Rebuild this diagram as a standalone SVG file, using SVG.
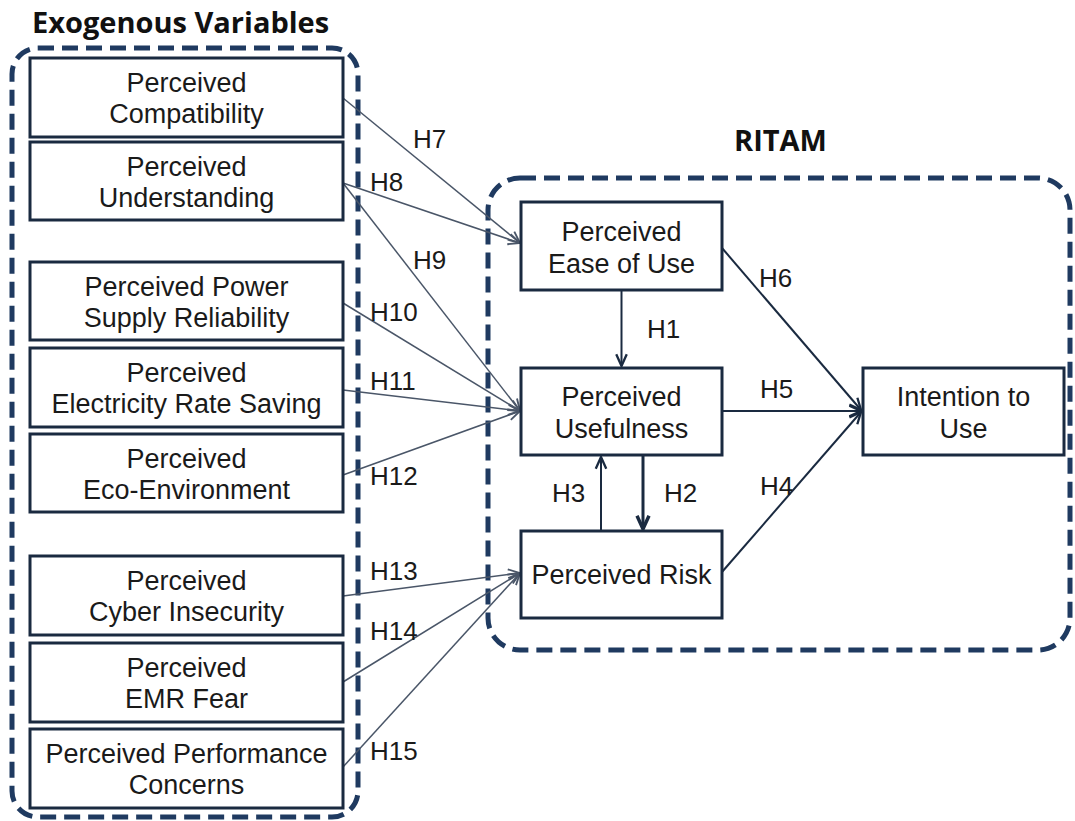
<svg xmlns="http://www.w3.org/2000/svg" width="1075" height="821" viewBox="0 0 1075 821">
<defs>
<style>
.grp{fill:none;stroke:#1f3a60;stroke-width:5;stroke-dasharray:16 8}
.title{font-family:"Open Sans","Liberation Sans",sans-serif;font-weight:bold;font-size:29px;fill:#111}
.box{fill:#fff;stroke:#1a2a40;stroke-width:3}
.t{font-family:"Liberation Sans",Arial,sans-serif;font-size:27px;fill:#1a1a1a;text-anchor:middle}
.lb{font-family:"Liberation Sans",Arial,sans-serif;font-size:26px;fill:#1a1a1a}
.ext{fill:none;stroke:#4a5668;stroke-width:1.5;marker-end:url(#ah1)}
.int{fill:none;stroke:#1a2a40;stroke-width:2;marker-end:url(#ah2)}
</style>
<marker id="ah1" markerUnits="userSpaceOnUse" markerWidth="14" markerHeight="14" viewBox="0 0 12 12" refX="11" refY="6" orient="auto">
<path d="M1,1.5 L11,6 L1,10.5" fill="none" stroke="#4a5668" stroke-width="1.6"/>
</marker>
<marker id="ah2" markerUnits="userSpaceOnUse" markerWidth="14" markerHeight="14" viewBox="0 0 12 12" refX="11" refY="6" orient="auto">
<path d="M1,1.5 L11,6 L1,10.5" fill="none" stroke="#1a2a40" stroke-width="2"/>
</marker>
<marker id="ah3" markerUnits="userSpaceOnUse" markerWidth="16" markerHeight="16" viewBox="0 0 12 12" refX="11" refY="6" orient="auto">
<path d="M1,1.5 L11,6 L1,10.5" fill="none" stroke="#1a2a40" stroke-width="2.6"/>
</marker>
</defs>

<g id="groups">
<rect class="grp" x="12" y="48" width="346" height="769" rx="26"/>
<rect class="grp" x="488" y="178" width="582" height="472" rx="32"/>
<text class="title" x="32" y="33">Exogenous Variables</text>
<text class="title" x="734" y="151">RITAM</text>
</g>

<g id="connectors">
<line class="ext" x1="343" y1="98" x2="520" y2="243"/>
<line class="ext" x1="343" y1="183" x2="520" y2="243"/>
<line class="ext" x1="343" y1="183" x2="520" y2="411"/>
<line class="ext" x1="343" y1="303" x2="520" y2="411"/>
<line class="ext" x1="343" y1="390" x2="520" y2="411"/>
<line class="ext" x1="343" y1="475" x2="520" y2="411"/>
<line class="ext" x1="343" y1="596" x2="520" y2="573"/>
<line class="ext" x1="343" y1="682" x2="520" y2="573"/>
<line class="ext" x1="343" y1="767" x2="520" y2="573"/>
<line class="int" x1="621.5" y1="290" x2="621.5" y2="366"/>
<line class="int" x1="722" y1="248" x2="861" y2="410"/>
<line class="int" x1="722" y1="411" x2="861" y2="411"/>
<line class="int" x1="722" y1="572" x2="861" y2="412"/>
<line class="int" x1="601" y1="531" x2="601" y2="457"/>
<line x1="643" y1="455" x2="643" y2="529" fill="none" stroke="#1a2a40" stroke-width="3" marker-end="url(#ah3)"/>
<text class="lb" x="413" y="148">H7</text>
<text class="lb" x="370" y="191">H8</text>
<text class="lb" x="413" y="269">H9</text>
<text class="lb" x="370" y="321">H10</text>
<text class="lb" x="370" y="390">H11</text>
<text class="lb" x="370" y="485">H12</text>
<text class="lb" x="370" y="580">H13</text>
<text class="lb" x="370" y="640">H14</text>
<text class="lb" x="370" y="760">H15</text>
<text class="lb" x="759" y="287">H6</text>
<text class="lb" x="647" y="338">H1</text>
<text class="lb" x="760" y="398">H5</text>
<text class="lb" x="760" y="495">H4</text>
<text class="lb" x="552" y="502">H3</text>
<text class="lb" x="664" y="502">H2</text>
</g>

<g id="n-compat"><rect class="box" x="30" y="58" width="313" height="79"/><text class="t" x="186.5" y="92">Perceived</text><text class="t" x="186.5" y="123">Compatibility</text></g>
<g id="n-underst"><rect class="box" x="30" y="142" width="313" height="78"/><text class="t" x="186.5" y="176">Perceived</text><text class="t" x="186.5" y="207">Understanding</text></g>
<g id="n-power"><rect class="box" x="30" y="262" width="313" height="78"/><text class="t" x="186.5" y="296">Perceived Power</text><text class="t" x="186.5" y="327">Supply Reliability</text></g>
<g id="n-rate"><rect class="box" x="30" y="348" width="313" height="79"/><text class="t" x="186.5" y="382">Perceived</text><text class="t" x="186.5" y="413">Electricity Rate Saving</text></g>
<g id="n-eco"><rect class="box" x="30" y="434" width="313" height="78"/><text class="t" x="186.5" y="468">Perceived</text><text class="t" x="186.5" y="499">Eco-Environment</text></g>
<g id="n-cyber"><rect class="box" x="30" y="556" width="313" height="79"/><text class="t" x="186.5" y="590">Perceived</text><text class="t" x="186.5" y="621">Cyber Insecurity</text></g>
<g id="n-emr"><rect class="box" x="30" y="643" width="313" height="79"/><text class="t" x="186.5" y="677">Perceived</text><text class="t" x="186.5" y="708">EMR Fear</text></g>
<g id="n-perf"><rect class="box" x="30" y="729" width="313" height="79"/><text class="t" x="186.5" y="763">Perceived Performance</text><text class="t" x="186.5" y="794">Concerns</text></g>

<g id="n-ease"><rect class="box" x="521" y="202" width="201" height="88"/><text class="t" x="621.5" y="241">Perceived</text><text class="t" x="621.5" y="273">Ease of Use</text></g>
<g id="n-useful"><rect class="box" x="521" y="368" width="201" height="87"/><text class="t" x="621.5" y="406">Perceived</text><text class="t" x="621.5" y="438">Usefulness</text></g>
<g id="n-risk"><rect class="box" x="521" y="531" width="201" height="87"/><text class="t" x="621.5" y="584">Perceived Risk</text></g>
<g id="n-intent"><rect class="box" x="863" y="368" width="201" height="87"/><text class="t" x="963.5" y="406">Intention to</text><text class="t" x="963.5" y="438">Use</text></g>
</svg>
